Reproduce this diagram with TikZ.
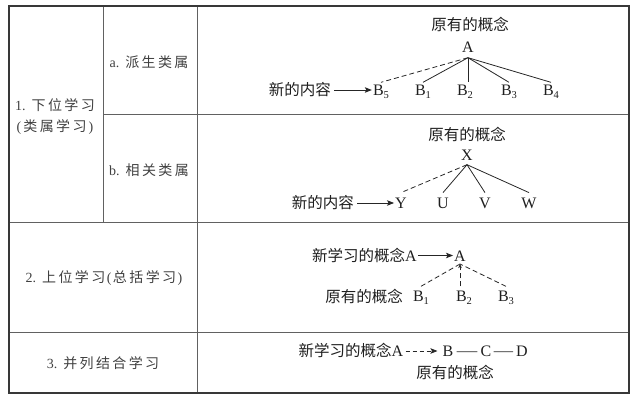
\documentclass[tikz,border=0pt]{standalone}
\usepackage{fontspec}
\setmainfont{Liberation Serif}
\newfontfamily\cjk{Noto Sans CJK SC}
\usetikzlibrary{arrows.meta}
\makeatletter
\newcommand\trkgap{2.4pt}
\def\trk#1{\trk@a#1\relax}
\def\trk@a#1#2{#1\ifx\relax#2\else\hspace{\trkgap}\expandafter\trk@a\expandafter#2\fi}
\makeatother
\newcommand\sbs[1]{\raisebox{-2.8pt}{\fontsize{10.5}{10.5}\selectfont #1}}
\begin{document}
\begin{tikzpicture}[x=1pt,y=-1pt,
  grid/.style={line width=0.8pt, draw=black!62},
  frame/.style={line width=1.4pt, draw=black!78},
  lefttxt/.style={font=\fontsize{14}{16}\selectfont, text=black!75, inner sep=0pt},
  dtxt/.style={font=\fontsize{15.5}{17}\selectfont, text=black!88, inner sep=0pt},
  ltr/.style={font=\fontsize{16}{18}\selectfont, text=black!88, anchor=base, inner xsep=1pt},
  conn/.style={line width=0.8pt, draw=black!85},
  dsh/.style={conn, dash pattern=on 5pt off 3pt},
  arr/.style={conn, -{Stealth[length=7pt,width=5.5pt,inset=1.5pt]}},
  smallarr/.style={-{Stealth[length=4pt,width=3.5pt,inset=1pt]}},
]
\useasboundingbox (0,0) rectangle (635,403);
% table
\draw[grid] (103,6) -- (103,222);
\draw[grid] (197,6) -- (197,393);
\draw[grid] (103,114) -- (629,114);
\draw[grid] (9,222) -- (629,222);
\draw[grid] (9,332) -- (629,332);
\draw[frame] (9,6) rectangle (629,393);
% left column texts
\node[lefttxt] (t1) at (55,105) {1.\hspace{6pt}{\cjk\trk{下位学习}}};
\node[lefttxt] (t1b) at (55,127) {(\hspace{2pt}{\cjk\trk{类属学习}}\hspace{2pt})};
\node[lefttxt] (ta) at (149,62) {a.\hspace{6pt}{\cjk\trk{派生类属}}};
\node[lefttxt] (tb) at (149,170) {b.\hspace{6pt}{\cjk\trk{相关类属}}};
\node[lefttxt] (t2) at (104,278) {2.\hspace{6pt}{\cjk\trk{上位学习}}\hspace{1.5pt}(\hspace{1.5pt}{\cjk\trk{总括学习}}\hspace{1.5pt})};
\node[lefttxt] (t3) at (103,363) {3.\hspace{6pt}{\cjk\trk{并列结合学习}}};
% row 1: derivative subsumption
\node[dtxt] (o1) at (470,25) {\cjk 原有的概念};
\node[ltr, inner ysep=5pt] (A1) at (468,52.5) {A};
\node[ltr, inner ysep=2.5pt] (B15) at (381,95.5) {B\sbs{5}};
\node[ltr, inner ysep=2.5pt] (B11) at (423,95.5) {B\sbs{1}};
\node[ltr, inner ysep=2.5pt] (B12) at (465,95.5) {B\sbs{2}};
\node[ltr, inner ysep=2.5pt] (B13) at (509,95.5) {B\sbs{3}};
\node[ltr, inner ysep=2.5pt] (B14) at (551,95.5) {B\sbs{4}};
\node[dtxt, anchor=east] (n1) at (331,90) {\cjk 新的内容};
\draw[arr, shorten <=3pt] (n1.east) -- (n1.east -| B15.west);
\draw[dsh] (A1.south) -- (B15.north);
\draw[conn] (A1.south) -- (B11.north);
\draw[conn] (A1.south) -- (A1.south |- B12.north);
\draw[conn] (A1.south) -- (B13.north);
\draw[conn] (A1.south) -- (B14.north);
% row 2: correlative subsumption
\node[dtxt] (o2) at (467,135) {\cjk 原有的概念};
\node[ltr, inner ysep=4pt] (X) at (467,160.5) {X};
\node[ltr, inner ysep=5.5pt] (Y) at (401,208.8) {Y};
\node[ltr, inner ysep=5.5pt] (U) at (443,208.8) {U};
\node[ltr, inner ysep=5.5pt] (V) at (485,208.8) {V};
\node[ltr, inner ysep=5.5pt] (W) at (529,208.8) {W};
\node[dtxt, anchor=east] (n2) at (354,203) {\cjk 新的内容};
\draw[arr, shorten <=3pt] (n2.east) -- (n2.east -| Y.west);
\draw[dsh] (X.south) -- (Y.north);
\draw[conn] (X.south) -- (U.north);
\draw[conn] (X.south) -- (V.north);
\draw[conn] (X.south) -- (W.north);
% row 3: superordinate learning
\node[dtxt, anchor=base east] (n3) at (417,261.5) {{\cjk 新学习的概念}{\fontsize{16}{18}\selectfont A}};
\node[ltr, inner ysep=2.3pt] (A3) at (460,261.5) {A};
\node[ltr, inner ysep=4.5pt] (B31) at (421,301.5) {B\sbs{1}};
\node[ltr, inner ysep=4.5pt] (B32) at (464,301.5) {B\sbs{2}};
\node[ltr, inner ysep=4.5pt] (B33) at (506,301.5) {B\sbs{3}};
\node[dtxt] (o3) at (364,297) {\cjk 原有的概念};
\draw[arr, shorten <=1pt] (n3.east) -- (n3.east -| A3.west);
\draw[dsh] (B31.north) -- (A3.south);
\draw[dsh, smallarr] (A3.south |- B32.north) -- (A3.south);
\draw[dsh] (B33.north) -- (A3.south);
% row 4: combinatorial learning
\node[dtxt, anchor=base east] (n4) at (403.5,357) {{\cjk 新学习的概念}{\fontsize{16}{18}\selectfont A}};
\node[ltr] (Bq) at (448,357) {B};
\node[ltr] (Cq) at (486,357) {C};
\node[ltr] (Dq) at (522,357) {D};
\node[dtxt] (o4) at (455,372.7) {\cjk 原有的概念};
\draw[arr, dash pattern=on 4pt off 3pt, shorten <=2pt, shorten >=4pt] (n4.east) -- (n4.east -| Bq.west);
\draw[conn, shorten <=2pt, shorten >=2pt] (Bq.east) -- (Cq.west);
\draw[conn, shorten <=1pt, shorten >=2pt] (Cq.east) -- (Dq.west);
\end{tikzpicture}
\end{document}
